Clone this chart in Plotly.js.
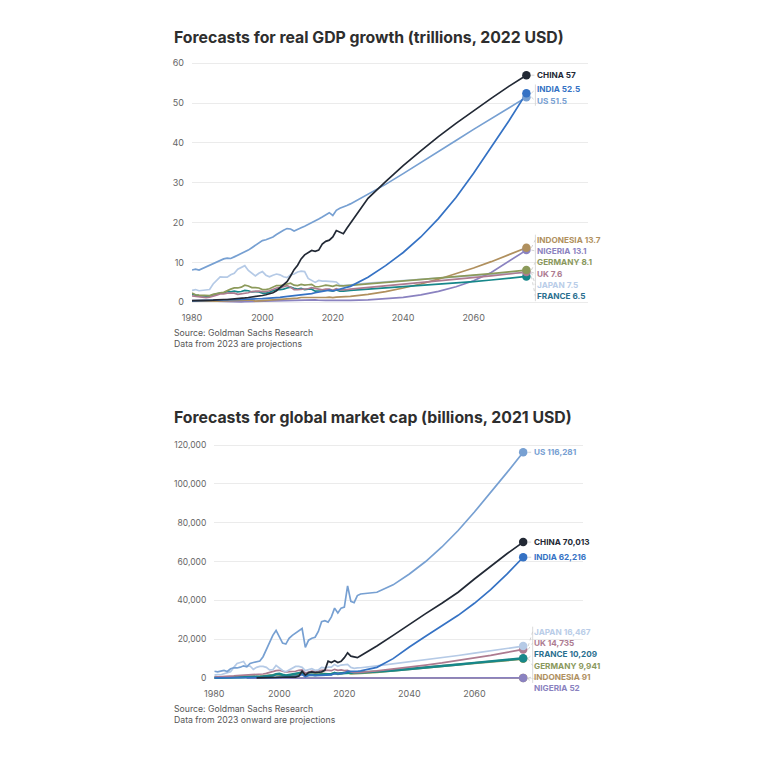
<!DOCTYPE html>
<html><head><meta charset="utf-8">
<script src="https://cdn.plot.ly/plotly-3.0.1.min.js"></script>
<style>html,body{margin:0;padding:0;background:#fff}#chart{width:768px;height:768px;position:relative}#clip{position:absolute;left:606px;top:0;width:162px;height:768px;background:#fff}</style>
</head><body><div id="chart"></div><div id="clip"></div>
<script>
// ---------- shared years ----------
const histYears = [1980,1981,1982,1983,1984,1985,1986,1987,1988,1989,1990,1991,1992,1993,1994,1995,1996,1997,1998,1999,2000,2001,2002,2003,2004,2005,2006,2007,2008,2009,2010,2011,2012,2013,2014,2015,2016,2017,2018,2019,2020,2021,2022];
const projYears = [2023,2024,2025,2030,2035,2040,2045,2050,2055,2060,2065,2070,2075];
const xTicks = [1980,2000,2020,2040,2060];

// ---------- Chart 1: real GDP (trillions, 2022 USD) ----------
const gdpTicks = [0,10,20,30,40,50,60];
const gdpUSHist = [8.1,8.3,8.1,8.5,9.1,9.4,9.8,10.1,10.5,10.9,11.1,11.0,11.4,11.8,12.3,12.6,13.1,13.7,14.3,14.9,15.5,15.7,16.0,16.4,17.0,17.6,18.1,18.5,18.4,17.9,18.4,18.7,19.1,19.5,20.0,20.5,20.9,21.4,22.0,22.5,21.8,23.1,23.6];
const gdpUSProj = [23.9,24.3,24.7,27.1,29.6,32.3,35.0,37.8,40.6,43.4,46.1,48.8,51.5];
const gdpChinaHist = [0.4,0.4,0.4,0.45,0.5,0.55,0.55,0.6,0.7,0.7,0.7,0.75,0.8,0.85,0.9,1.1,1.2,1.3,1.4,1.5,1.7,1.9,2.1,2.4,2.9,3.6,4.3,5.2,6.6,8.2,9.3,10.9,11.9,12.4,13.0,12.8,13.1,14.6,15.3,15.6,16.4,18.0,17.5];
const gdpChinaProj = [17.2,18.6,19.8,26.1,30.3,34.3,38.0,41.6,44.9,48.1,51.2,54.2,57.0];
const gdpIndiaHist = [0.34,0.36,0.37,0.4,0.41,0.43,0.45,0.47,0.51,0.54,0.57,0.57,0.6,0.63,0.67,0.71,0.76,0.79,0.83,0.89,0.93,0.97,1.0,1.07,1.15,1.25,1.35,1.45,1.5,1.6,1.75,1.85,1.95,2.05,2.2,2.4,2.55,2.7,2.9,3.05,2.85,3.1,3.3];
const gdpIndiaProj = [3.5,3.8,4.0,6.3,9.2,12.5,16.4,21.0,26.3,32.4,38.8,45.5,52.5];
const gdpJapanHist = [3.0,3.2,2.9,3.0,3.1,3.2,4.6,5.6,6.4,6.3,6.3,6.9,7.3,8.3,8.8,9.2,8.0,7.3,6.6,7.3,7.7,6.8,6.4,6.8,7.1,6.9,6.4,6.2,6.9,7.1,7.6,7.8,7.7,6.0,5.5,5.0,5.5,5.3,5.3,5.3,5.2,5.1,4.3];
const gdpJapanProj = [4.2,4.3,4.4,4.8,5.15,5.5,5.8,6.1,6.4,6.7,7.0,7.25,7.5];
const gdpGermanyHist = [2.3,1.9,1.8,1.8,1.7,1.7,2.0,2.3,2.4,2.5,3.0,3.3,3.6,3.6,3.8,4.3,4.1,3.7,3.7,3.6,3.2,3.2,3.4,3.9,4.2,4.2,4.3,4.6,4.8,4.3,4.2,4.5,4.3,4.4,4.5,3.9,3.9,4.1,4.3,4.2,4.0,4.3,4.1];
const gdpGermanyProj = [4.1,4.2,4.25,4.6,4.95,5.3,5.65,6.0,6.4,6.8,7.2,7.65,8.1];
const gdpUKHist = [1.6,1.5,1.4,1.3,1.2,1.3,1.5,1.8,2.1,2.1,2.3,2.3,2.3,2.0,2.1,2.3,2.4,2.7,2.8,2.8,2.7,2.7,2.9,3.2,3.6,3.7,3.9,4.2,3.8,3.2,3.2,3.3,3.3,3.4,3.7,3.5,3.2,3.1,3.3,3.3,3.0,3.4,3.1];
const gdpUKProj = [3.1,3.2,3.3,3.7,4.1,4.5,4.9,5.3,5.75,6.2,6.65,7.1,7.6];
const gdpFranceHist = [2.1,1.8,1.7,1.6,1.5,1.5,1.9,2.2,2.3,2.3,2.7,2.6,2.8,2.6,2.7,3.0,2.9,2.6,2.7,2.6,2.3,2.3,2.5,2.9,3.2,3.2,3.3,3.6,3.8,3.5,3.3,3.5,3.2,3.3,3.3,2.8,2.8,2.9,3.1,3.0,2.8,3.1,2.8];
const gdpFranceProj = [2.8,2.9,3.0,3.3,3.6,3.9,4.2,4.5,4.85,5.2,5.6,6.0,6.5];
const gdpIndonesiaHist = [0.30,0.33,0.33,0.30,0.31,0.31,0.30,0.28,0.30,0.33,0.37,0.40,0.43,0.48,0.52,0.59,0.65,0.60,0.30,0.36,0.40,0.40,0.45,0.52,0.56,0.60,0.72,0.82,0.93,0.96,1.05,1.2,1.2,1.2,1.15,1.05,1.1,1.2,1.2,1.3,1.2,1.3,1.35];
const gdpIndonesiaProj = [1.4,1.45,1.5,2.0,2.7,3.6,4.6,5.8,7.2,8.6,10.2,11.9,13.7];
const gdpNigeriaHist = [0.45,0.42,0.38,0.33,0.3,0.28,0.2,0.15,0.15,0.14,0.15,0.15,0.13,0.1,0.1,0.15,0.18,0.19,0.18,0.17,0.18,0.19,0.23,0.26,0.3,0.35,0.42,0.47,0.55,0.46,0.5,0.55,0.6,0.65,0.7,0.62,0.52,0.45,0.48,0.5,0.48,0.45,0.48];
const gdpNigeriaProj = [0.48,0.49,0.5,0.6,0.85,1.25,1.85,2.75,3.9,5.4,7.5,10.2,13.1];
const gdpLabels = {US:'US 51.5', CHINA:'CHINA 57', INDIA:'INDIA 52.5', JAPAN:'JAPAN 7.5', GERMANY:'GERMANY 8.1', UK:'UK 7.6', FRANCE:'FRANCE 6.5', INDONESIA:'INDONESIA 13.7', NIGERIA:'NIGERIA 13.1'};

// ---------- Chart 2: market cap (billions, 2021 USD) ----------
const capTicks = [0,20000,40000,60000,80000,100000,120000];
const capUSHist = [3500,3200,3600,3900,3400,4800,5300,5200,5600,6300,5800,7500,8000,8500,8800,11000,14500,18500,22000,24500,21000,18000,17500,20500,22000,23200,24500,25500,15800,19500,20500,21000,24000,29000,29500,28800,31500,36000,33500,36000,36500,47500,39500];
const capUSProj = [38800,42500,43300,44200,48000,53600,60000,67500,76000,85500,95500,105800,116281];
const capChinaHist = [null,null,null,null,null,null,null,null,null,null,null,null,null,100,150,150,200,300,350,450,600,550,500,600,550,450,1000,3500,1500,2800,3200,2800,3000,3200,4000,8700,8000,8900,8000,8600,10500,13000,11300];
const capChinaProj = [10700,10500,11500,16500,22000,27700,33200,38500,44200,51000,57500,64000,70013];
const capIndiaHist = [50,50,60,60,70,80,90,100,120,140,150,200,250,300,350,400,380,400,380,400,500,450,400,600,700,900,1100,1800,700,1300,1600,1200,1300,1200,1600,1600,1600,2300,2200,2300,2600,3500,3400];
const capIndiaProj = [3300,3500,3700,5500,10000,16000,21500,26800,32300,38500,45500,53500,62216];
const capJapanHist = [1500,1800,1700,2200,2800,3300,5500,7500,8000,8500,6000,6200,4500,5500,6000,6000,5500,4200,4300,6500,5200,3900,3200,4100,4800,6000,6000,5500,3800,4200,4800,4000,4200,5500,5200,5600,5600,7000,6000,6700,7000,7000,5500];
const capJapanProj = [5000,5200,5300,6300,7300,8300,9400,10500,11600,12800,14000,15200,16467];
const capUKHist = [500,550,600,700,750,900,1100,1300,1400,1600,1500,1600,1700,1900,1800,2100,2400,2900,3400,3800,4000,3500,3000,3300,3400,3500,4000,4200,2600,3300,3600,3400,3800,4000,4100,4000,3800,4500,4000,4200,3800,3900,3100];
const capUKProj = [2800,2700,2900,3700,4600,5600,6700,7800,9000,10300,11700,13200,14735];
const capFranceHist = [150,130,120,140,150,200,300,350,400,500,450,550,550,650,600,700,800,1000,1300,2000,2200,1700,1300,1600,1900,1900,2400,2900,1500,1700,1700,1500,1700,2100,2000,2000,2000,2600,2300,2500,2600,2900,2700];
const capFranceProj = [2700,2750,2850,3300,3900,4600,5400,6200,7000,7800,8600,9400,10209];
const capGermanyHist = [200,180,200,220,250,350,500,450,500,700,650,700,650,750,800,900,1000,1100,1500,1900,1800,1500,1000,1400,1600,1600,2000,3000,1500,1700,1700,1500,1800,2200,2000,2000,2000,2600,2100,2300,2600,2900,2300];
const capGermanyProj = [2300,2450,2550,3100,3800,4500,5300,6100,6900,7700,8500,9200,9941];
const capIndonesiaHist = [null,null,null,null,null,null,null,null,null,null,8,7,10,20,30,40,50,20,15,25,15,15,20,30,40,45,50,60,30,50,70,70,75,80,75,70,75,80,85,80,80,85,85];
const capIndonesiaProj = [85,86,86,87,87,88,88,89,89,90,90,90,91];
const capNigeriaHist = [null,null,null,null,null,null,null,null,null,null,1,1,1,2,2,3,3,3,3,3,4,5,6,10,15,20,30,40,20,30,40,40,50,50,45,40,30,35,35,40,45,50,52];
const capNigeriaProj = [50,50,50,50,50,51,51,51,51,52,52,52,52];
const capLabels = {US:'US 116,281', CHINA:'CHINA 70,013', INDIA:'INDIA 62,216', JAPAN:'JAPAN 16,467', GERMANY:'GERMANY 9,941', UK:'UK 14,735', FRANCE:'FRANCE 10,209', INDONESIA:'INDONESIA 91', NIGERIA:'NIGERIA 52'};

// ---------- styles ----------
const colors = {
  US:'#77a0d2', CHINA:'#222935', INDIA:'#3572c4', JAPAN:'#b5cae6', GERMANY:'#8c9a5a',
  UK:'#ad7b90', FRANCE:'#17878a', INDONESIA:'#b0905e', NIGERIA:'#8a82c0'
};
const labelColors = {
  US:'#77a0d2', CHINA:'#222935', INDIA:'#3572c4', JAPAN:'#b9cde8', GERMANY:'#8a985c',
  UK:'#ad7b90', FRANCE:'#2a6f8f', INDONESIA:'#b0905e', NIGERIA:'#8a82c0'
};
const W = 768, H = 768;
const FONT = 'Inter, "Noto Sans", sans-serif';

const ax1 = {x:{domain:[192/W, 588/W], range:[1980, 2092.5]}, y:{domain:[0.5986, 0.9228], range:[-1.5, 61]}};
const ax2 = {x:{domain:[214.3/W, 583/W], range:[1980, 2093.4]}, y:{domain:[0.1108, 0.4243], range:[-2500, 121500]}};

function yToPx(v, a) {
  const bottom = H*(1-a.domain[0]), top = H*(1-a.domain[1]);
  return bottom - (v - a.range[0])/(a.range[1]-a.range[0])*(bottom-top);
}
// cluster overlapping labels, centre each cluster on a robust centre (mean/median blend)
function dodge(desired, gap) {
  const idx = desired.map((d,i)=>i).sort((a,b)=>desired[a]-desired[b]);
  const centreTop = members => {
    const offs = members.map((m,k) => desired[m] - k*gap);
    const mean = offs.reduce((s,v)=>s+v,0)/offs.length;
    const n = members.length;
    const vals = members.map(m => desired[m]).sort((a,b)=>a-b);
    const vmed = n%2 ? vals[(n-1)/2] : (vals[n/2-1]+vals[n/2])/2;
    const centreMedian = vmed - (n-1)*gap/2;
    return (mean + centreMedian)/2;
  };
  const clusters = [];
  idx.forEach(i => {
    clusters.push({members:[i], top:desired[i]});
    while (clusters.length > 1) {
      const b = clusters[clusters.length-1], a = clusters[clusters.length-2];
      const aBottom = a.top + (a.members.length-1)*gap;
      if (b.top - aBottom < gap) {
        const members = a.members.concat(b.members);
        clusters.splice(-2, 2, {members, top: centreTop(members)});
      } else break;
    }
  });
  const pos = [];
  clusters.forEach(c => c.members.forEach((m,k)=>{ pos[m] = c.top + k*gap; }));
  return {pos, clusters};
}

const traces = [], annotations = [], shapes = [];

function addChart(series, xa, ya, axCfg, gap, labelShift, bracketX, lineW) {
  series.forEach(s => {
    traces.push({x: histYears.concat(projYears), y: s.hist.concat(s.proj), xaxis: xa, yaxis: ya,
      mode:'lines', line:{color: colors[s.key], width: s.w || lineW}, connectgaps:false, hoverinfo:'skip'});
  });
  series.forEach(s => {
    traces.push({x:[projYears[projYears.length-1]], y:[s.proj[s.proj.length-1]], xaxis: xa, yaxis: ya,
      mode:'markers', marker:{color: colors[s.key], size: 8.5}, cliponaxis:false, hoverinfo:'skip'});
  });
  const endX = projYears[projYears.length-1];
  const vals = series.map(s => s.proj[s.proj.length-1]);
  const desired = vals.map(v => yToPx(v, axCfg.y));
  const {pos, clusters} = dodge(desired, gap);
  series.forEach((s,i) => {
    annotations.push({x:endX, y:vals[i], xref:xa, yref:ya, text:s.label, showarrow:false,
      xanchor:'left', yanchor:'middle', xshift:labelShift, yshift: desired[i]-pos[i],
      font:{family:FONT, size:8.2, color: labelColors[s.key], weight:700}});
    shapes.push({type:'line', xref:xa, yref:ya, xsizemode:'pixel', ysizemode:'pixel',
      xanchor:endX, yanchor:vals[i], x0:5, x1:bracketX, y0:0, y1: desired[i]-pos[i],
      line:{color:'#c8c8c8', width:0.8, dash:'dot'}});
  });
  clusters.filter(c => c.members.length > 1).forEach(c => {
    const first = c.members[0];
    const topPx = c.top - 5, botPx = c.top + (c.members.length-1)*gap + 5;
    shapes.push({type:'line', xref:xa, yref:ya, xsizemode:'pixel', ysizemode:'pixel',
      xanchor:endX, yanchor:vals[first], x0:bracketX, x1:bracketX,
      y0: desired[first]-topPx, y1: desired[first]-botPx,
      line:{color:'#d0d0d0', width:0.8}});
  });
}

const s1 = [
  {key:'JAPAN', hist:gdpJapanHist, proj:gdpJapanProj},
  {key:'NIGERIA', hist:gdpNigeriaHist, proj:gdpNigeriaProj},
  {key:'INDONESIA', hist:gdpIndonesiaHist, proj:gdpIndonesiaProj},
  {key:'FRANCE', hist:gdpFranceHist, proj:gdpFranceProj},
  {key:'UK', hist:gdpUKHist, proj:gdpUKProj},
  {key:'GERMANY', hist:gdpGermanyHist, proj:gdpGermanyProj},
  {key:'US', hist:gdpUSHist, proj:gdpUSProj},
  {key:'INDIA', hist:gdpIndiaHist, proj:gdpIndiaProj},
  {key:'CHINA', hist:gdpChinaHist, proj:gdpChinaProj}
].map(s => Object.assign(s, {label: gdpLabels[s.key]}));
const s2 = [
  {key:'INDONESIA', hist:capIndonesiaHist, proj:capIndonesiaProj},
  {key:'NIGERIA', hist:capNigeriaHist, proj:capNigeriaProj},
  {key:'GERMANY', hist:capGermanyHist, proj:capGermanyProj, w:2.4},
  {key:'FRANCE', hist:capFranceHist, proj:capFranceProj, w:2.4},
  {key:'UK', hist:capUKHist, proj:capUKProj},
  {key:'JAPAN', hist:capJapanHist, proj:capJapanProj},
  {key:'INDIA', hist:capIndiaHist, proj:capIndiaProj},
  {key:'CHINA', hist:capChinaHist, proj:capChinaProj},
  {key:'US', hist:capUSHist, proj:capUSProj}
].map(s => Object.assign(s, {label: capLabels[s.key]}));

addChart(s1, 'x', 'y', ax1, 11.3, 8.5, 9, 1.7);
addChart(s2, 'x2', 'y2', ax2, 11.3, 8.5, 9.5, 1.7);

// titles and notes
function paperY(px){ return (H-px)/H; }
annotations.push({xref:'paper', yref:'paper', x:172/W, y:paperY(37), xanchor:'left', yanchor:'middle', showarrow:false,
  text:'Forecasts for real GDP growth (trillions, 2022 USD)', font:{family:FONT, size:15.8, color:'#2e2e2e', weight:700}});
annotations.push({xref:'paper', yref:'paper', x:172/W, y:paperY(417), xanchor:'left', yanchor:'middle', showarrow:false,
  text:'Forecasts for global market cap (billions, 2021 USD)', font:{family:FONT, size:15.8, color:'#2e2e2e', weight:700}});
annotations.push({xref:'paper', yref:'paper', x:172/W, y:paperY(338.5), xanchor:'left', yanchor:'middle', showarrow:false, align:'left',
  text:'Source: Goldman Sachs Research<br>Data from 2023 are projections', font:{family:FONT, size:8.7, color:'#555555'}});
annotations.push({xref:'paper', yref:'paper', x:172/W, y:paperY(714.5), xanchor:'left', yanchor:'middle', showarrow:false, align:'left',
  text:'Source: Goldman Sachs Research<br>Data from 2023 onward are projections', font:{family:FONT, size:8.7, color:'#555555'}});

const tickFont = {family:FONT, size:9, color:'#666666'};
const layout = {
  width:W, height:H, margin:{l:0,r:0,t:0,b:0}, paper_bgcolor:'#ffffff', plot_bgcolor:'rgba(0,0,0,0)',
  showlegend:false,
  xaxis:{domain:ax1.x.domain, range:ax1.x.range, anchor:'y', tickvals:xTicks, showgrid:false, zeroline:false, showline:false, ticks:'', tickfont:tickFont, ticklabelstandoff:3, fixedrange:true},
  yaxis:{domain:ax1.y.domain, range:ax1.y.range, anchor:'x', tickvals:gdpTicks, showgrid:true, gridcolor:'#ebebeb', gridwidth:1, zeroline:false, showline:false, ticks:'', tickfont:tickFont, ticklabelstandoff:7, fixedrange:true},
  xaxis2:{domain:ax2.x.domain, range:ax2.x.range, anchor:'y2', tickvals:xTicks, showgrid:false, zeroline:false, showline:false, ticks:'', tickfont:tickFont, ticklabelstandoff:4, fixedrange:true},
  yaxis2:{domain:ax2.y.domain, range:ax2.y.range, anchor:'x2', tickvals:capTicks, tickformat:',', showgrid:true, gridcolor:'#ebebeb', gridwidth:1, zeroline:false, showline:false, ticks:'', tickfont:{family:FONT, size:8.5, color:'#666666'}, ticklabelstandoff:7, fixedrange:true},
  annotations, shapes
};
Plotly.newPlot('chart', traces, layout, {staticPlot:true, displayModeBar:false});
</script>
</body></html>
